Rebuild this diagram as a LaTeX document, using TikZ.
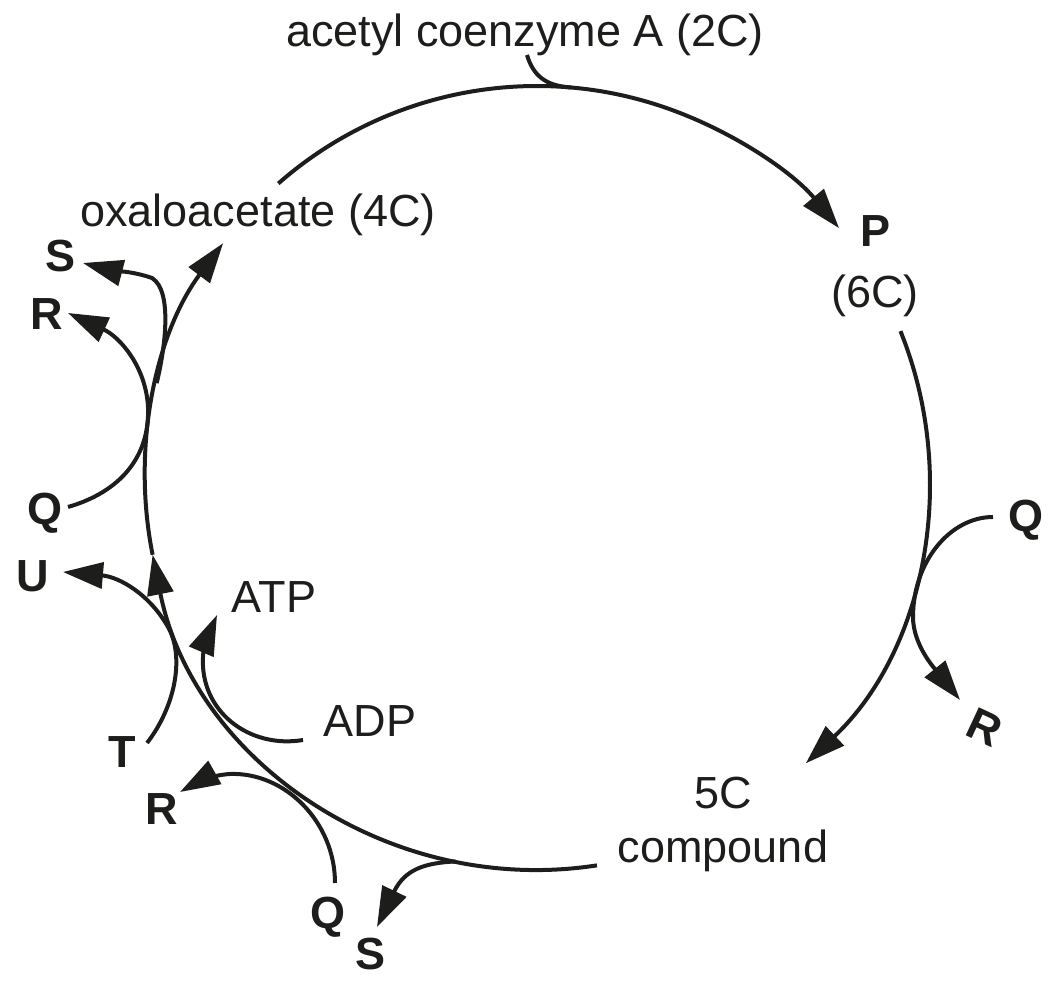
\documentclass[tikz,border=0pt]{standalone}
\usepackage{fontspec}
\setmainfont{Liberation Sans}
\usetikzlibrary{arrows.meta}
\definecolor{ink}{RGB}{29,29,27}
\begin{document}
\begin{tikzpicture}[x=1pt,y=1pt,
  conn/.style={draw=ink, line width=4pt},
  flow/.style={conn, -{Triangle[length=40pt,width=26pt]}},
  lbl/.style={text=ink, inner sep=0pt, font=\fontsize{45pt}{54pt}\selectfont},
  blbl/.style={text=ink, inner sep=0pt, font=\fontsize{45pt}{54pt}\selectfont\bfseries}]
\useasboundingbox (0,0) rectangle (1060,987);
\coordinate (C) at (537,509);
% ---- labels
\node[lbl, anchor=base] (acetyl) at (525,940) {acetyl coenzyme A (2C)};
\node[lbl, anchor=base] (oxalo) at (258,760) {oxaloacetate (4C)};
\node[blbl, anchor=base] (P) at (875,740) {P};
\node[lbl, anchor=base] (sixC) at (875,679) {(6C)};
\node[lbl, align=center] (fiveC) at (723,163) {5C\\compound};
\node[blbl, anchor=base] (Qr) at (1026,455) {Q};
\node[blbl, rotate=-25] (Rr) at (985,260) {R};
\node[blbl, anchor=base] (Sb) at (371,17) {S};
\node[blbl, anchor=base] (Qb) at (328,58) {Q};
\node[blbl, anchor=base] (Rb) at (162,162) {R};
\node[blbl, anchor=base] (T) at (122,219) {T};
\node[blbl, anchor=base] (U) at (33,395) {U};
\node[lbl, anchor=base] (ATP) at (274,374) {ATP};
\node[lbl, anchor=base] (ADP) at (370,250) {ADP};
\node[blbl, anchor=base] (Ql) at (45,462) {Q};
\node[blbl, anchor=base] (Rl) at (47,657) {R};
\node[blbl, anchor=base] (Sl) at (61,715) {S};
% ---- points on the cycle
\coordinate (topS) at ([shift={(131.3:392)}]C);
\coordinate (acJoin) at ([shift={(85:392)}]C);
\coordinate (acIn) at (527,932);
\coordinate (rightS) at ([shift={(22:392)}]C);
\coordinate (leftS) at ([shift={(-81.2:392)}]C);
\coordinate (midTip) at ([shift={(-168.7:392)}]C);
\coordinate (sJ) at ([shift={(-102:392)}]C);
\coordinate (sLJ) at ([shift={(166:392)}]C);
% ---- branch end points
\coordinate (qRs) at (993,470);
\coordinate (rRt) at (960,287);
\coordinate (sBt) at (377,60);
\coordinate (qBs) at (335,104);
\coordinate (rBt) at (180,195);
\coordinate (adpS) at (303,247);
\coordinate (atpT) at (217,372);
\coordinate (tS) at (147,244);
\coordinate (uT) at (63,415);
\coordinate (qLs) at (68,480);
\coordinate (rLt) at (68,674);
\coordinate (sLt) at (83,724);
% ---- main cycle
\draw[flow] (topS) arc[start angle=131.3, end angle=39.6, radius=392];
\draw[conn] (acIn) .. controls (533,912) and (545,901) .. (acJoin);
\draw[flow] (rightS) arc[start angle=22, end angle=-46.7, radius=392];
\draw[flow] (leftS) arc[start angle=-81.2, end angle=-168.7, radius=392];
\draw[flow] (midTip) arc[start angle=-168.7, end angle=-216.8, radius=392];
% ---- side branches
\draw[flow] (qRs) .. controls (950,470) and (913,425) .. (913,370) .. controls (913,342) and (935,318) .. (rRt);
\draw[flow] (sJ) .. controls (425,124) and (405,118) .. (sBt);
\draw[flow] (qBs) .. controls (335,165) and (285,215) .. (230,213) .. controls (212,212) and (196,204) .. (rBt);
\draw[flow] (adpS) .. controls (250,238) and (200,275) .. (203,330) .. controls (204,348) and (211,358) .. (atpT);
\draw[flow] (tS) .. controls (175,280) and (185,330) .. (168,360) .. controls (150,392) and (120,410) .. (uT);
\draw[flow] (qLs) .. controls (120,495) and (150,530) .. (148,580) .. controls (146,620) and (120,650) .. (rLt);
\draw[flow] (sLJ) .. controls (165,638) and (173,696) .. (152,709) .. controls (132,716) and (110,717) .. (sLt);
\end{tikzpicture}
\end{document}
